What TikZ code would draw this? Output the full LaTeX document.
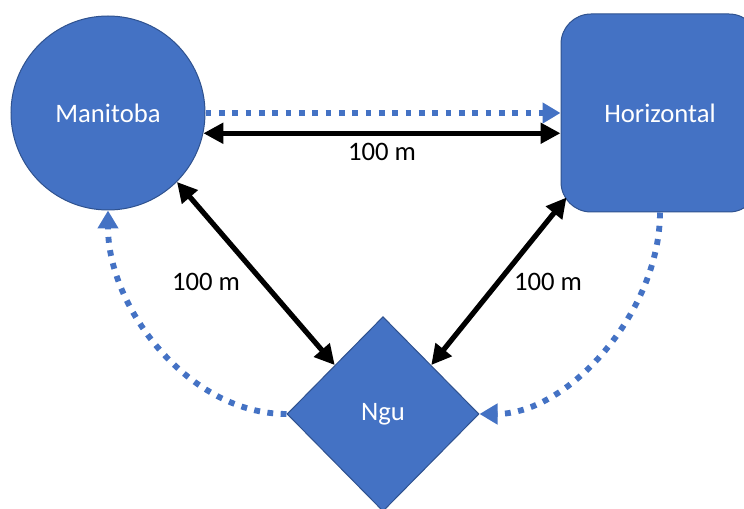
\documentclass[tikz,border=0pt]{standalone}
\usepackage{fontspec}
\setmainfont{Carlito}
\usetikzlibrary{shapes.geometric,arrows.meta,calc}
\definecolor{obl}{HTML}{4472C4}
\definecolor{obd}{HTML}{2F528F}
\begin{document}
\begin{tikzpicture}[x=0.75pt,y=-0.75pt,
 shapebox/.style={fill=obl,draw=obd,line width=0.75pt,text=white,font=\fontsize{20}{24}\selectfont,inner sep=0pt},
 dist/.style={draw=black,line width=3.9pt,{Triangle[length=15pt,width=15pt]}-{Triangle[length=15pt,width=15pt]}},
 flow/.style={draw=obl,line width=4.4pt,dash pattern=on 4.4pt off 5.6pt,-{Triangle[length=13.5pt,width=15pt]}},
 lbl/.style={font=\fontsize{20}{24}\selectfont,text=black}]
\useasboundingbox (0,0) rectangle (744,509);
\clip (0,0) rectangle (744,509);
\node[shapebox,circle,minimum size=145.5pt] (man) at (108,113) {Manitoba};
\node[shapebox,rectangle,rounded corners=22.5pt,minimum size=148.5pt] (hor) at (660,113) {Horizontal};
\node[shapebox,diamond,minimum width=144pt,minimum height=146pt] (ngu) at (383,414) {Ngu};
\draw[flow] (man.east) -- (hor.west);
\draw[dist] (man.-12) -- (man.-12 -| hor.west);
\draw[dist] (man.-45) -- (ngu.north west);
\draw[dist] ($(hor.south west)+(6,-15)$) -- (ngu.north east);
\draw[flow] (ngu.west) .. controls +(-97,0) and +(0,98) .. (man.south);
\draw[flow] (hor.south) .. controls +(0,98) and +(90,0) .. (ngu.east);
\node[lbl] (l1) at (382,152) {100 m};
\node[lbl] (l2) at (206,282) {100 m};
\node[lbl] (l3) at (548,282) {100 m};
\end{tikzpicture}
\end{document}
